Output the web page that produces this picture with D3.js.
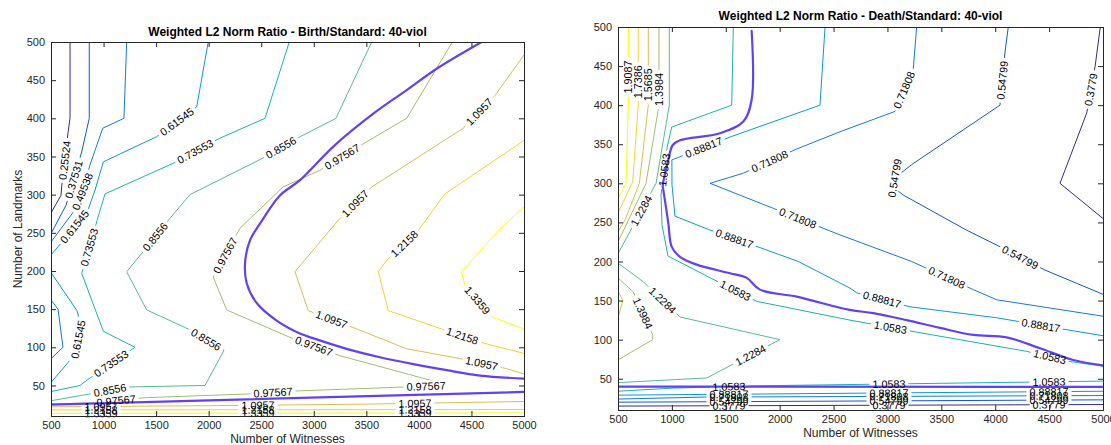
<!DOCTYPE html>
<html>
<head>
<meta charset="utf-8">
<script src="https://cdn.jsdelivr.net/npm/d3@7"></script>
<style>
  html, body { margin: 0; padding: 0; background: #fff; }
  svg { display: block; font-family: "Liberation Sans", Arial, Helvetica, sans-serif; }
</style>
</head>
<body>
<svg id="chart" width="1111" height="445"></svg>
<script>
// ---------- axes ----------
const xTicks = d3.range(500, 5001, 500);
const yTicks = d3.range(50, 501, 50);
const xDomain = [500, 5000];
const yDomain = [10, 500];

// ---------- Birth / Standard ----------
const birthLevels = [0.25524, 0.37531, 0.49538, 0.61545, 0.73553, 0.8556, 0.97567, 1.0957, 1.2158, 1.3359];

const birth_025524  = [[681,500],[681,400],[662,381],[602,311],[595,299],[500,276]];
const birth_037531  = [[864,500],[864,400],[792,356],[643,286],[500,249]];
const birth_049538a = [[1220,500],[1194,400],[992,387],[919,358],[871,339],[804,306],[728,280],[500,238]];
const birth_049538b = [[500,162],[567,150],[614,100],[500,85]];
const birth_061545a = [[1996,500],[1886,415],[1506,376],[998,343],[919,306],[852,280],[605,238],[500,221]];
const birth_061545b = [[500,198],[747,148],[785,129],[738,96],[662,80],[500,54]];
const birth_073553  = [[2767,500],[2536,400],[2108,374],[1661,341],[1014,301],[938,266],[792,197],[998,121],[1299,100],[842,57],[776,50],[500,42]];
const birth_08556   = [[3551,500],[3211,400],[2885,377],[2504,347],[1822,300],[1632,269],[1363,223],[1220,199],[1410,149],[1806,124],[2146,96],[2044,70],[1965,50],[1220,48],[871,39],[500,30]];
const birth_097567  = [[4318,500],[3884,400],[3487,368],[3059,332],[2707,310],[2298,256],[2044,192],[2171,149],[2774,113],[3249,89],[4106,57],[4248,50],[3868,48],[2869,43],[2393,39],[1394,34],[900,27],[500,26]];
const birth_10957a  = [[5000,483],[4724,430],[4422,387],[3551,310],[3230,266],[2821,199],[2948,148],[3373,126],[3884,98],[4324,87],[4835,72],[5000,65]];
const birth_10957b  = [[500,22],[2000,23.5],[3500,25.5],[5000,29]];
const birth_12158a  = [[5000,371],[4248,301],[3994,253],[3693,214],[3614,199],[3709,148],[4217,124],[4629,105],[5000,92]];
const birth_12158b  = [[500,18],[5000,18.5]];
const birth_13359a  = [[5000,284],[4755,253],[4407,199],[4438,181],[4692,140],[5000,124]];
const birth_13359b  = [[500,13.5],[5000,14]];

// ratio = 1 curves
const birthUnityUpper = [[4597,500],[4169,465],[3884,437],[3566,406],[3186,363],[2869,319],[2678,299],[2507,266],[2393,240],[2346,210],[2362,184],[2457,158],[2647,135],[2869,118],[2992,112],[3313,98],[3630,87],[3947,78],[4264,70],[4581,63],[5000,59]];
const birthUnityLower = [[500,25],[5000,41.5]];

// where the inline value labels sit on each contour
const birthLabelSpots = {
  birth_025524:  [[630,345]],
  birth_037531:  [[715,320]],
  birth_049538a: [[800,304]],
  birth_049538b: [],
  birth_061545a: [[1700,395],[725,258]],
  birth_061545b: [[768,110]],
  birth_073553:  [[1870,357],[865,231],[1070,79]],
  birth_08556:   [[2678,364],[1489,245],[1975,110],[1061,44]],
  birth_097567:  [[3259,352],[2146,221],[3002,102],[4068,51],[2612,41],[1118,32]],
  birth_10957a:  [[4572,409],[3382,290],[3173,138],[4600,81]],
  birth_10957b:  [[976,23],[2469,24.5],[3963,26.5]],
  birth_12158a:  [[3839,239],[4419,117]],
  birth_12158b:  [[976,18],[2469,18],[3963,18.5]],
  birth_13359a:  [[4560,162]],
  birth_13359b:  [[976,13.5],[2469,13.5],[3963,14]]
};

// ---------- Death / Standard ----------
const deathLevels = [0.3779, 0.54799, 0.71808, 0.88817, 1.0583, 1.2284, 1.3984, 1.5685, 1.7386, 1.9087];

const death_03779a  = [[4975,500],[4926,449],[4849,390],[4601,300],[5000,255]];
const death_03779b  = [[500,15],[5000,17]];
const death_054799a = [[4121,500],[4091,468],[4044,400],[3225,324],[3005,300],[3147,285],[3735,240],[4014,221],[4462,189],[5000,158]];
const death_054799b = [[500,20],[5000,23]];
const death_071808a = [[3271,500],[3240,447],[3070,392],[2560,366],[2142,343],[1663,313],[1354,300],[1941,268],[2560,234],[3225,200],[3797,164],[4014,151],[5000,130]];
const death_071808b = [[500,24],[1300,26.5],[5000,28.5]];
const death_088817a = [[2421,500],[2374,400],[1555,360],[1075,334],[1000,330],[1001,298],[1029,258],[1338,241],[1833,217],[2173,200],[2652,166],[2715,160],[3209,142],[4013,128],[4694,112],[5000,105]];
const death_088817b = [[500,29],[5000,34]];
const death_10583a  = [[1570,500],[1555,400],[998,372],[957,347],[899,285],[908,247],[964,207],[1400,176],[1787,149],[2652,125],[3256,110],[4292,85],[4694,72],[5000,66]];
const death_10583b  = [[500,34],[1010,38],[1817,41],[5000,47]];
const death_12284a  = [[976,500],[976,400],[853,300],[500,210]];
const death_12284b  = [[500,198],[735,174],[1075,129],[2003,100],[1323,51],[500,45]];
const death_13984a  = [[880,500],[880,400],[760,300],[500,225]];
const death_13984b  = [[500,179],[642,161],[822,106],[822,100],[500,74]];
const death_15685a  = [[781,500],[781,400],[698,300],[565,253],[500,238]];
const death_15685b  = [[500,162],[545,150],[500,128]];
const death_17386   = [[688,500],[688,400],[636,302],[500,262]];
const death_19087   = [[596,500],[596,400],[574,300],[500,280]];

const deathUnityUpper = [[1740,495],[1740,407],[1663,379],[1446,364],[1075,355],[1008,349],[967,330],[915,296],[920,292],[967,249],[998,219],[1075,206],[1230,196],[1539,185],[1694,179],[1817,164],[2158,155],[2652,138],[2869,134],[3179,125],[3488,115],[3797,106],[4106,103],[4415,89],[4724,74],[5000,67]];
const deathUnityLower = [[500,40],[5000,39.5]];

// label spots; an optional third entry fixes the text angle
const deathLabelSpots = {
  death_03779a:  [[4885,420]],
  death_03779b:  [[1530,15.5],[3014,16],[4499,16.5]],
  death_054799a: [[4054,432],[3089,303,-80],[4230,205]],
  death_054799b: [[1530,21],[3014,22],[4499,22.5]],
  death_071808a: [[3181,418],[1901,330],[2170,256],[3552,180]],
  death_071808b: [[1530,26],[3014,27],[4499,28]],
  death_088817a: [[1289,348],[1586,231],[2949,151],[4425,119]],
  death_088817b: [[1530,31],[3014,32],[4499,33]],
  death_10583a:  [[936,317],[1586,162],[3033,119],[4508,79]],
  death_10583b:  [[1530,40],[3014,43],[4499,46]],
  death_12284a:  [[715,265]],
  death_12284b:  [[918,151],[1734,79]],
  death_13984a:  [[880,420]],
  death_13984b:  [[750,135]],
  death_15685a:  [[781,426]],
  death_15685b:  [],
  death_17386:   [[688,430]],
  death_19087:   [[596,436]]
};

// ---------- assemble ----------
const birthLines = [
  [0.25524, 'birth_025524', birth_025524],
  [0.37531, 'birth_037531', birth_037531],
  [0.49538, 'birth_049538a', birth_049538a],
  [0.49538, 'birth_049538b', birth_049538b],
  [0.61545, 'birth_061545a', birth_061545a],
  [0.61545, 'birth_061545b', birth_061545b],
  [0.73553, 'birth_073553', birth_073553],
  [0.8556,  'birth_08556', birth_08556],
  [0.97567, 'birth_097567', birth_097567],
  [1.0957,  'birth_10957a', birth_10957a],
  [1.0957,  'birth_10957b', birth_10957b],
  [1.2158,  'birth_12158a', birth_12158a],
  [1.2158,  'birth_12158b', birth_12158b],
  [1.3359,  'birth_13359a', birth_13359a],
  [1.3359,  'birth_13359b', birth_13359b]
];
const deathLines = [
  [0.3779,  'death_03779a', death_03779a],
  [0.3779,  'death_03779b', death_03779b],
  [0.54799, 'death_054799a', death_054799a],
  [0.54799, 'death_054799b', death_054799b],
  [0.71808, 'death_071808a', death_071808a],
  [0.71808, 'death_071808b', death_071808b],
  [0.88817, 'death_088817a', death_088817a],
  [0.88817, 'death_088817b', death_088817b],
  [1.0583,  'death_10583a', death_10583a],
  [1.0583,  'death_10583b', death_10583b],
  [1.2284,  'death_12284a', death_12284a],
  [1.2284,  'death_12284b', death_12284b],
  [1.3984,  'death_13984a', death_13984a],
  [1.3984,  'death_13984b', death_13984b],
  [1.5685,  'death_15685a', death_15685a],
  [1.5685,  'death_15685b', death_15685b],
  [1.7386,  'death_17386', death_17386],
  [1.9087,  'death_19087', death_19087]
];

// parula colour map
const parula = d3.piecewise(d3.interpolateRgb,
  ["#352a87","#0f5cdd","#1481d6","#06a4ca","#2eb7a4","#87bf77","#d1bb59","#fec832","#f9fb0e"]);

const svg = d3.select('#chart');
svg.append('rect').attr('width', 1111).attr('height', 445).attr('fill', '#fff');
const defs = svg.append('defs');

function nearestOnLine(P, q) {
  let best = { d: Infinity };
  for (let i = 0; i < P.length - 1; i++) {
    const [ax, ay] = P[i], [bx, by] = P[i + 1];
    const dx = bx - ax, dy = by - ay;
    const L2 = dx * dx + dy * dy || 1;
    let t = ((q[0] - ax) * dx + (q[1] - ay) * dy) / L2;
    t = Math.max(0, Math.min(1, t));
    const px = ax + t * dx, py = ay + t * dy;
    const d = Math.hypot(q[0] - px, q[1] - py);
    if (d < best.d) best = { d, x: px, y: py, ang: Math.atan2(dy, dx) * 180 / Math.PI };
  }
  let a = best.ang;
  while (a > 90) a -= 180;
  while (a <= -90) a += 180;
  if (a === 90) a = -90;
  best.ang = a;
  return best;
}

function drawPanel(cfg) {
  const { id, left, right, top, bottom, levels, lines, spots, unity, title, titleY, xLabelY, yLabel } = cfg;
  const x = d3.scaleLinear().domain(xDomain).range([left, right]);
  const y = d3.scaleLinear().domain(yDomain).range([bottom, top]);
  const g = svg.append('g');

  defs.append('clipPath').attr('id', 'clip-' + id)
    .append('rect').attr('x', left).attr('y', top)
    .attr('width', right - left).attr('height', bottom - top);

  const lineGen = d3.line().x(d => x(d[0])).y(d => y(d[1]));
  const lineLayer = g.append('g').attr('clip-path', `url(#clip-${id})`);
  const labelLayer = svg.append('g').attr('class', 'labels');
  const fs = 10.8;

  lines.forEach(([level, name, pts], j) => {
    const col = parula(levels.indexOf(level) / (levels.length - 1));
    const P = pts.map(d => [x(d[0]), y(d[1])]);
    const maskId = `m-${id}-${j}`;
    const mask = defs.append('mask').attr('id', maskId)
      .attr('maskUnits', 'userSpaceOnUse')
      .attr('x', 0).attr('y', 0).attr('width', 1111).attr('height', 445);
    mask.append('rect').attr('x', 0).attr('y', 0).attr('width', 1111).attr('height', 445).attr('fill', '#fff');

    (spots[name] || []).forEach(s => {
      const hit = nearestOnLine(P, [x(s[0]), y(s[1])]);
      const ang = s.length > 2 ? s[2] : hit.ang;
      const t = labelLayer.append('text')
        .attr('transform', `translate(${hit.x},${hit.y}) rotate(${ang})`)
        .attr('text-anchor', 'middle')
        .attr('dy', '0.36em')
        .attr('font-size', fs)
        .attr('fill', '#000')
        .text(String(level));
      const w = t.node().getComputedTextLength();
      mask.append('rect')
        .attr('x', -w / 2 - 3).attr('y', -fs * 0.55)
        .attr('width', w + 6).attr('height', fs * 1.1)
        .attr('transform', `translate(${hit.x},${hit.y}) rotate(${ang})`)
        .attr('fill', '#000');
    });

    lineLayer.append('path')
      .attr('d', lineGen(pts))
      .attr('fill', 'none')
      .attr('stroke', col)
      .attr('stroke-width', 1)
      .attr('stroke-linejoin', 'round')
      .attr('mask', `url(#${maskId})`);
  });

  // ratio = 1 curves
  const smooth = d3.line().x(d => x(d[0])).y(d => y(d[1])).curve(d3.curveCatmullRom.alpha(0.5));
  unity.forEach(pts => {
    lineLayer.append('path')
      .attr('d', smooth(pts))
      .attr('fill', 'none')
      .attr('stroke', '#6042f2')
      .attr('stroke-width', 2.2)
      .attr('stroke-linecap', 'round');
  });

  labelLayer.raise();

  // axes with inward ticks
  const axisColor = '#262626';
  const ax = svg.append('g');
  ax.append('g').attr('transform', `translate(0,${bottom})`)
    .call(d3.axisBottom(x).tickValues(xTicks).tickSize(-5).tickPadding(5).tickFormat(d3.format('d')));
  ax.append('g').attr('transform', `translate(0,${top})`)
    .call(d3.axisTop(x).tickValues(xTicks).tickSize(-5).tickFormat(''));
  ax.append('g').attr('transform', `translate(${left},0)`)
    .call(d3.axisLeft(y).tickValues(yTicks).tickSize(-5).tickPadding(6).tickFormat(d3.format('d')));
  ax.append('g').attr('transform', `translate(${right},0)`)
    .call(d3.axisRight(y).tickValues(yTicks).tickSize(-5).tickFormat(''));
  ax.selectAll('.domain').attr('stroke', axisColor).attr('stroke-width', 1);
  ax.selectAll('.tick line').attr('stroke', axisColor).attr('stroke-width', 1);
  ax.selectAll('.tick text').attr('fill', axisColor).attr('font-size', 11)
    .attr('font-family', '"Liberation Sans", Arial, Helvetica, sans-serif');

  svg.append('text')
    .attr('x', (left + right) / 2).attr('y', titleY)
    .attr('text-anchor', 'middle').attr('font-size', 12).attr('font-weight', 'bold')
    .attr('fill', '#000').text(title);
  svg.append('text')
    .attr('x', (left + right) / 2).attr('y', xLabelY)
    .attr('text-anchor', 'middle').attr('font-size', 12)
    .attr('fill', axisColor).text('Number of Witnesses');
  if (yLabel) {
    svg.append('text')
      .attr('transform', `translate(22,${(top + bottom) / 2}) rotate(-90)`)
      .attr('text-anchor', 'middle').attr('font-size', 12)
      .attr('fill', axisColor).text(yLabel);
  }
}

drawPanel({
  id: 'birth', left: 51, right: 524, top: 42, bottom: 416,
  levels: birthLevels, lines: birthLines, spots: birthLabelSpots,
  unity: [birthUnityUpper, birthUnityLower],
  title: 'Weighted L2 Norm Ratio - Birth/Standard: 40-viol',
  titleY: 36, xLabelY: 443, yLabel: 'Number of Landmarks'
});

drawPanel({
  id: 'death', left: 618, right: 1103, top: 27, bottom: 410,
  levels: deathLevels, lines: deathLines, spots: deathLabelSpots,
  unity: [deathUnityUpper, deathUnityLower],
  title: 'Weighted L2 Norm Ratio - Death/Standard: 40-viol',
  titleY: 20, xLabelY: 437, yLabel: null
});
</script>
</body>
</html>
